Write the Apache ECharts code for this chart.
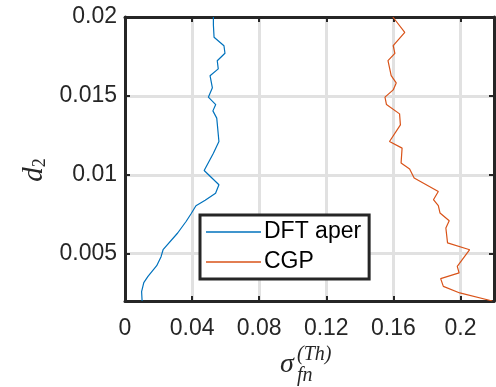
<!DOCTYPE html>
<html>
<head>
<meta charset="utf-8">
<script src="https://cdn.jsdelivr.net/npm/echarts@6/dist/echarts.min.js"></script>
<style>
  html, body { margin: 0; padding: 0; background: #fff; }
  #chart { width: 496px; height: 387px; }
</style>
</head>
<body>
<div id="chart"></div>
<script>
// values
const xTicks = [0, 0.04, 0.08, 0.12, 0.16, 0.2]
const yTicks = [0.005, 0.01, 0.015, 0.02]

const dftD2 = [0.002, 0.00259, 0.00316, 0.00356, 0.00424, 0.00481, 0.00525, 0.00631, 0.00704, 0.00753,
  0.00804, 0.00839, 0.00883, 0.00937, 0.01027, 0.01137, 0.01211, 0.01359, 0.01405, 0.01445,
  0.01492, 0.01551, 0.01628, 0.01671, 0.01723, 0.0177, 0.01818, 0.01872, 0.01949, 0.02]
const dftSigma = [0.0102, 0.0099, 0.0112, 0.0137, 0.0189, 0.0215, 0.0227, 0.0314, 0.0364, 0.0394,
  0.0423, 0.0478, 0.054, 0.056, 0.0472, 0.0527, 0.056, 0.0547, 0.0524, 0.0541,
  0.0497, 0.0521, 0.0507, 0.0556, 0.055, 0.0596, 0.059, 0.0531, 0.0527, 0.0527]

const cgpD2 = [0.002, 0.00251, 0.00293, 0.00342, 0.00378, 0.0042, 0.00525, 0.00568, 0.00663, 0.00709,
  0.00758, 0.00804, 0.00842, 0.00894, 0.00979, 0.01036, 0.01074, 0.01169, 0.01211, 0.01316,
  0.01386, 0.01445, 0.01492, 0.01538, 0.01582, 0.01628, 0.01723, 0.0177, 0.01818, 0.01903, 0.02]
const cgpSigma = [0.219, 0.1996, 0.1898, 0.1882, 0.1992, 0.1981, 0.2055, 0.1923, 0.1913, 0.1933,
  0.1878, 0.1868, 0.1839, 0.1868, 0.1724, 0.1697, 0.1646, 0.1652, 0.1577, 0.1642,
  0.1637, 0.1559, 0.155, 0.1599, 0.1617, 0.1587, 0.1568, 0.1609, 0.1599, 0.1668, 0.1597]

const dark = '#262626'
const gridColor = '#e1e1e1'
const font = '"Liberation Sans", Arial, sans-serif'
const serif = '"Liberation Serif", "DejaVu Serif", serif'

const chart = echarts.init(document.getElementById('chart'), null, { renderer: 'canvas' })

const boxAxis = (extra) => Object.assign({
  type: 'value',
  axisLine: { show: true, onZero: false, lineStyle: { color: dark, width: 3 } },
  axisTick: { show: true, inside: true, length: 5, lineStyle: { color: dark, width: 2 } },
  axisLabel: { show: false },
  splitLine: { show: false }
}, extra)

const option = {
  animation: false,
  grid: { left: 125, right: 2, top: 17, bottom: 86, containLabel: false, outerBoundsMode: 'none' },
  xAxis: [
    boxAxis({
      position: 'bottom',
      min: 0,
      max: 0.22,
      axisTick: { show: true, inside: true, length: 5, customValues: xTicks, lineStyle: { color: dark, width: 2 } },
      axisLabel: { show: true, customValues: xTicks, color: dark, fontSize: 23, fontFamily: font, margin: 16 },
      splitLine: { show: true, lineStyle: { color: gridColor, width: 3 } }
    }),
    boxAxis({
      position: 'top',
      min: 0,
      max: 0.22,
      axisTick: { show: true, inside: true, length: 5, customValues: xTicks, lineStyle: { color: dark, width: 2 } }
    })
  ],
  yAxis: [
    boxAxis({
      position: 'left',
      min: 0.002,
      max: 0.02,
      axisTick: { show: true, inside: true, length: 5, customValues: yTicks, lineStyle: { color: dark, width: 2 } },
      axisLabel: { show: true, customValues: yTicks, color: dark, fontSize: 23, fontFamily: font, margin: 8 },
      splitLine: { show: true, lineStyle: { color: gridColor, width: 3 } }
    }),
    boxAxis({
      position: 'right',
      min: 0.002,
      max: 0.02,
      axisTick: { show: true, inside: true, length: 5, customValues: yTicks, lineStyle: { color: dark, width: 2 } }
    })
  ],
  legend: {
    left: 200,
    top: 215,
    orient: 'vertical',
    backgroundColor: '#fff',
    borderColor: dark,
    borderWidth: 3,
    borderRadius: 0,
    padding: [5, 8, 5, 6],
    icon: 'rect',
    itemWidth: 55,
    itemHeight: 1.5,
    itemGap: 6,
    textStyle: { color: '#000', fontSize: 23, fontFamily: font, lineHeight: 24, padding: [0, 0, 0, -2] },
    data: ['DFT aper', 'CGP']
  },
  series: [
    {
      name: 'DFT aper',
      type: 'line',
      symbol: 'none',
      color: '#0072BD',
      lineStyle: { width: 1.2 },
      data: dftSigma.map((v, i) => [v, dftD2[i]])
    },
    {
      name: 'CGP',
      type: 'line',
      symbol: 'none',
      color: '#D95319',
      lineStyle: { width: 1.2 },
      data: cgpSigma.map((v, i) => [v, cgpD2[i]])
    }
  ],
  graphic: [
    { type: 'text', left: 280, top: 351, style: { text: 'σ', font: 'italic 28px ' + serif, fill: dark } },
    { type: 'text', left: 297, top: 345, style: { text: '(Th)', font: 'italic 20px ' + serif, fill: dark } },
    { type: 'text', left: 297, top: 366, style: { text: 'fn', font: 'italic 20px ' + serif, fill: dark } },
    {
      type: 'text', x: 34, y: 170, rotation: Math.PI / 2,
      style: {
        text: '{d|d}{s|2}',
        align: 'center',
        verticalAlign: 'middle',
        rich: {
          d: { fontFamily: serif, fontStyle: 'italic', fontSize: 29, fill: dark },
          s: { fontFamily: serif, fontSize: 18, fill: dark, verticalAlign: 'bottom', padding: [12, 0, 0, 0] }
        }
      }
    }
  ]
}

chart.setOption(option)
</script>
</body>
</html>
